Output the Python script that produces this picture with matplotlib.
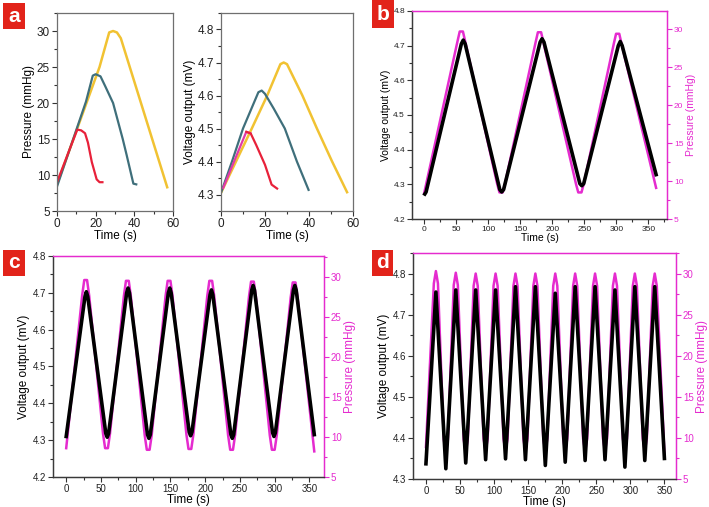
import matplotlib
matplotlib.use('Agg')
import matplotlib.pyplot as plt
from matplotlib.ticker import MultipleLocator
from matplotlib.patches import Rectangle

plt.rcParams['font.family'] = ['Liberation Sans', 'DejaVu Sans']

# ---------------- Panel a (left): pressure vs time ----------------
a_red_t = [0, 8.6, 10.5, 12.5, 14.5, 16, 18, 20.5, 22, 23.5]
a_red_p = [9.0, 15.0, 16.3, 16.2, 15.8, 14.5, 11.8, 9.4, 9.0, 9.0]
a_teal_t = [0, 15, 18.5, 20, 22.5, 25, 29, 34, 36, 39.5, 41]
a_teal_p = [8.4, 20.2, 23.8, 24.0, 23.7, 22.3, 20.0, 15.0, 12.8, 8.8, 8.7]
a_yel_t = [0, 22, 27, 29, 31, 33, 57]
a_yel_p = [8.7, 25.0, 29.8, 30.0, 29.8, 29.0, 8.3]

# ---------------- Panel a (right): voltage vs time ----------------
a_red_vt = [1, 11.5, 13.5, 16, 20, 23, 25.5]
a_red_v = [4.32, 4.49, 4.485, 4.45, 4.39, 4.33, 4.318]
a_teal_vt = [0, 5, 10, 17, 18.5, 20, 24, 29, 34.5, 39.8]
a_teal_v = [4.305, 4.40, 4.50, 4.61, 4.615, 4.605, 4.56, 4.50, 4.40, 4.314]
a_yel_vt = [0, 14, 21, 27, 28.5, 30, 37, 43.6, 50.5, 57.3]
a_yel_v = [4.305, 4.50, 4.60, 4.695, 4.70, 4.695, 4.60, 4.50, 4.40, 4.307]

# ---------------- Panel b ----------------
b_p_t = [0,
         52, 55.5, 60.5, 64,
         114, 117.5, 122.5, 126,
         174, 177.5, 182.5, 186,
         237, 240.5, 245.5, 249,
         296, 299.5, 304.5, 308,
         362]
b_p = [8.4,
       28.4, 29.7, 29.7, 28.4,
       9.6, 8.5, 8.5, 9.6,
       28.3, 29.6, 29.6, 28.3,
       9.6, 8.5, 8.5, 9.6,
       28.1, 29.4, 29.4, 28.1,
       9.1]
b_v_t = [1, 3, 58, 61, 64, 118, 121, 124, 181, 184, 187, 243, 246, 249, 303, 306, 309, 362]
b_v = [4.272, 4.278, 4.705, 4.716, 4.705, 4.285, 4.278, 4.285, 4.71, 4.72, 4.71,
       4.302, 4.296, 4.302, 4.70, 4.712, 4.70, 4.328]

# ---------------- Panel c ----------------
c_p_t = [0,
         23, 26, 30, 33,
         53, 56, 60, 63,
         83, 86, 90, 93,
         113, 116, 120, 123,
         143, 146, 150, 153,
         173, 176, 180, 183,
         203, 206, 210, 213,
         233, 236, 240, 243,
         263, 266, 270, 273,
         293, 296, 300, 303,
         323, 326, 330, 333,
         357]
c_p = [8.6,
       27.7, 29.6, 29.6, 27.7,
       10.4, 8.6, 8.6, 10.4,
       27.6, 29.5, 29.5, 27.6,
       10.2, 8.4, 8.4, 10.2,
       27.6, 29.5, 29.5, 27.6,
       10.3, 8.5, 8.5, 10.3,
       27.6, 29.5, 29.5, 27.6,
       10.2, 8.4, 8.4, 10.2,
       27.5, 29.4, 29.4, 27.5,
       10.2, 8.4, 8.4, 10.2,
       27.4, 29.3, 29.3, 27.4,
       8.2]
c_v_t = [0, 27, 29, 31, 57, 59, 61, 87, 89, 91, 117, 119, 121, 147, 149, 151,
         177, 179, 181, 207, 209, 211, 237, 239, 241, 267, 269, 271, 297, 299, 301,
         327, 329, 331, 357]
c_v = [4.31, 4.69, 4.703, 4.69, 4.318, 4.308, 4.318, 4.70, 4.713, 4.70,
       4.315, 4.305, 4.315, 4.70, 4.713, 4.70, 4.322, 4.312, 4.322,
       4.695, 4.708, 4.695, 4.315, 4.305, 4.315, 4.707, 4.72, 4.707,
       4.32, 4.31, 4.32, 4.707, 4.72, 4.707, 4.315]

# ---------------- Panel d ----------------
d_p_t = [0,
         11.6, 14.6, 17.6, 26.2, 29.2, 32.2,
         40.8, 43.8, 46.8, 55.4, 58.4, 61.4,
         70.0, 73.0, 76.0, 84.6, 87.6, 90.6,
         99.2, 102.2, 105.2, 113.8, 116.8, 119.8,
         128.4, 131.4, 134.4, 143.0, 146.0, 149.0,
         157.6, 160.6, 163.6, 172.2, 175.2, 178.2,
         186.8, 189.8, 192.8, 201.4, 204.4, 207.4,
         216.0, 219.0, 222.0, 230.6, 233.6, 236.6,
         245.2, 248.2, 251.2, 259.8, 262.8, 265.8,
         274.4, 277.4, 280.4, 289.0, 292.0, 295.0,
         303.6, 306.6, 309.6, 318.2, 321.2, 324.2,
         332.8, 335.8, 338.8,
         350.0]
d_p = [8.9,
       28.8, 30.3, 28.8, 9.8, 8.3, 9.8,
       28.6, 30.1, 28.6, 9.8, 8.3, 9.8,
       28.5, 30.0, 28.5, 9.9, 8.4, 9.9,
       28.5, 30.0, 28.5, 9.9, 8.4, 9.9,
       28.5, 30.0, 28.5, 9.9, 8.4, 9.9,
       28.5, 30.0, 28.5, 9.9, 8.4, 9.9,
       28.5, 30.0, 28.5, 9.9, 8.4, 9.9,
       28.5, 30.0, 28.5, 9.9, 8.4, 9.9,
       28.5, 30.0, 28.5, 9.9, 8.4, 9.9,
       28.5, 30.0, 28.5, 9.9, 8.4, 9.9,
       28.5, 30.0, 28.5, 9.9, 8.4, 9.9,
       28.5, 30.0, 28.5,
       8.0]
d_v_t = [0, 14.6, 29.2, 43.8, 58.4, 73.0, 87.6, 102.2, 116.8, 131.4, 146.0, 160.6,
         175.2, 189.8, 204.4, 219.0, 233.6, 248.2, 262.8, 277.4, 292.0, 306.6,
         321.2, 335.8, 350.0]
d_v = [4.337, 4.755, 4.325, 4.76, 4.339, 4.76, 4.347, 4.76, 4.349, 4.768, 4.347,
       4.768, 4.333, 4.752, 4.341, 4.768, 4.345, 4.768, 4.347, 4.76, 4.329, 4.768,
       4.345, 4.768, 4.35]

MAG = '#e52bcf'
RED = '#e8213a'
PINK = '#e03aa8'
TEAL = '#3f6f7b'
YEL = '#f1c232'
FRAME = '#6f6f6f'

W, H = 709, 507
fig = plt.figure(figsize=(W / 100, H / 100), dpi=100)


def px_axes(x0, y0, x1, y1):
    return fig.add_axes([x0 / W, 1 - y1 / H, (x1 - x0) / W, (y1 - y0) / H])


def style(ax, fs, color='#222222', spine=FRAME):
    for s in ax.spines.values():
        s.set_color(spine)
        s.set_linewidth(0.9)
    ax.tick_params(which='both', direction='out', colors='#333333',
                   labelcolor=color, labelsize=fs, width=0.8)
    ax.tick_params(which='major', length=3.5, pad=1.5)
    ax.tick_params(which='minor', length=2)


def label_box(x0, y0, x1, y1, letter):
    fig.patches.append(Rectangle((x0 / W, 1 - y1 / H), (x1 - x0) / W, (y1 - y0) / H,
                                 transform=fig.transFigure, facecolor='#e2231a',
                                 edgecolor='none', zorder=10))
    fig.text((x0 + x1) / 2 / W, 1 - (y0 + y1) / 2 / H, letter, color='white',
             fontsize=15, fontweight='bold', ha='center', va='center', zorder=11)


# ----- a left -----
ax = px_axes(57, 13, 173, 211)
ax.plot(a_yel_t, a_yel_p, color=YEL, lw=1.8, solid_joinstyle='round')
ax.plot(a_teal_t, a_teal_p, color=TEAL, lw=1.6, solid_joinstyle='round')
ax.plot(a_red_t, a_red_p, color=RED, lw=1.6, solid_joinstyle='round')
ax.set_xlim(0, 60)
ax.set_ylim(5, 32.5)
ax.xaxis.set_major_locator(MultipleLocator(20))
ax.xaxis.set_minor_locator(MultipleLocator(10))
ax.yaxis.set_major_locator(MultipleLocator(5))
ax.yaxis.set_minor_locator(MultipleLocator(2.5))
style(ax, 8.5)
ax.set_xlabel('Time (s)', fontsize=8.5, labelpad=0)
ax.set_ylabel('Pressure (mmHg)', fontsize=8.5, labelpad=1)

# ----- a right -----
ax = px_axes(221, 13, 353, 211)
ax.plot(a_yel_vt, a_yel_v, color=YEL, lw=1.8, solid_joinstyle='round')
ax.plot(a_teal_vt, a_teal_v, color=TEAL, lw=1.6, solid_joinstyle='round')
ax.plot(a_red_vt[:3], a_red_v[:3], color=PINK, lw=1.6, solid_joinstyle='round')
ax.plot(a_red_vt[1:], a_red_v[1:], color=RED, lw=1.6, solid_joinstyle='round')
ax.set_xlim(0, 60)
ax.set_ylim(4.25, 4.85)
ax.xaxis.set_major_locator(MultipleLocator(20))
ax.xaxis.set_minor_locator(MultipleLocator(10))
ax.yaxis.set_major_locator(MultipleLocator(0.1))
ax.yaxis.set_minor_locator(MultipleLocator(0.05))
style(ax, 8.5)
ax.set_xlabel('Time (s)', fontsize=8.5, labelpad=0)
ax.set_ylabel('Voltage output (mV)', fontsize=8.5, labelpad=1)


def dual(box, t_v, v, t_p, p, xlim, vlim, plim, tfs, lfs, vmaj):
    ax = px_axes(*box)
    ax2 = ax.twinx()
    ax2.plot(t_p, p, color=MAG, lw=1.8, solid_joinstyle='round')
    ax.plot(t_v, v, color='black', lw=2.6, solid_joinstyle='round')
    ax.set_zorder(ax2.get_zorder() + 1)
    ax.patch.set_visible(False)
    ax.set_xlim(*xlim)
    ax.set_ylim(*vlim)
    ax2.set_ylim(*plim)
    ax.xaxis.set_major_locator(MultipleLocator(50))
    ax.xaxis.set_minor_locator(MultipleLocator(25))
    ax.yaxis.set_major_locator(MultipleLocator(vmaj))
    ax.yaxis.set_minor_locator(MultipleLocator(vmaj / 2))
    ax2.yaxis.set_major_locator(MultipleLocator(5))
    ax2.yaxis.set_minor_locator(MultipleLocator(2.5))
    style(ax, tfs, spine='#3a3a3a')
    style(ax2, tfs, color=MAG, spine='#3a3a3a')
    ax2.tick_params(which='both', colors=MAG, labelcolor=MAG)
    for a in (ax, ax2):
        a.spines['top'].set_color(MAG)
        a.spines['right'].set_color(MAG)
    ax.set_xlabel('Time (s)', fontsize=lfs, labelpad=0)
    ax.set_ylabel('Voltage output (mV)', fontsize=lfs, labelpad=2)
    ax2.set_ylabel('Pressure (mmHg)', fontsize=lfs, color=MAG, labelpad=2)
    return ax, ax2


dual((412, 11, 667, 219), b_v_t, b_v, b_p_t, b_p, (-19, 379), (4.2, 4.8), (5, 32.4),
     6, 7.5, 0.1)
dual((53, 256, 324, 477), c_v_t, c_v, c_p_t, c_p, (-19, 371), (4.2, 4.8), (5, 32.6),
     7, 8.5, 0.1)
dual((413, 253, 676, 479), d_v_t, d_v, d_p_t, d_p, (-19, 367), (4.3, 4.85), (5, 32.5),
     7, 8.5, 0.1)

label_box(3, 3, 25, 29, 'a')
label_box(372, 0, 394, 28, 'b')
label_box(3, 250, 25, 276, 'c')
label_box(372, 250, 393, 276, 'd')

fig.savefig('out.png', dpi=100)
